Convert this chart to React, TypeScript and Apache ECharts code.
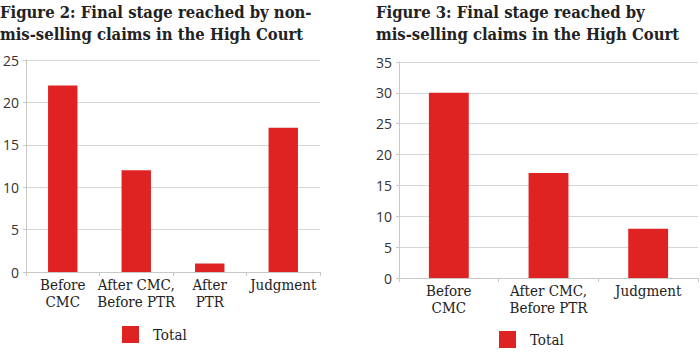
import React, { useEffect, useRef } from "react";
import * as echarts from "echarts";

const leftCategories = ["Before\nCMC", "After CMC,\nBefore PTR", "After\nPTR", "Judgment"];
const leftValues = [22, 12, 1, 17];
const rightCategories = ["Before\nCMC", "After CMC,\nBefore PTR", "Judgment"];
const rightValues = [30, 17, 8];
const leftTitle = "Figure 2: Final stage reached by non-\nmis-selling claims in the High Court";
const rightTitle = "Figure 3: Final stage reached by\nmis-selling claims in the High Court";
const seriesName = "Total";

const RED = "#df2322";
const SERIF = "'DejaVu Serif Condensed', 'Liberation Serif', serif";
const SANS = "'Open Sans', sans-serif";

export default function App() {
  const ref = useRef<HTMLDivElement>(null);
  useEffect(() => {
    document.body.style.margin = "0";
    const chart = echarts.init(ref.current!, null, { renderer: "svg" });
    const xAxisCommon = {
      type: "category" as const,
      axisLine: { lineStyle: { color: "#c8c8c8" } },
      axisTick: { show: true, length: 4, lineStyle: { color: "#c8c8c8" } },
      axisLabel: { interval: 0, fontFamily: SERIF, fontSize: 15, color: "#222", lineHeight: 17, margin: 4 },
    };
    const yAxisCommon = {
      type: "value" as const,
      min: 0,
      interval: 5,
      axisLine: { show: true, lineStyle: { color: "#c8c8c8" } },
      axisTick: { show: true, length: 3, lineStyle: { color: "#c8c8c8" } },
      splitLine: { lineStyle: { color: "#d6d6d6" } },
      axisLabel: { fontFamily: SANS, fontSize: 14, color: "#333", margin: 7 },
    };
    const titleStyle = { fontFamily: SERIF, fontWeight: "bold", fontSize: 16.5, lineHeight: 22, color: "#222" };
    chart.setOption({
      animation: false,
      title: [
        { text: leftTitle, left: 0, top: 1, textStyle: titleStyle, padding: 0 },
        { text: rightTitle, left: 376, top: 1, textStyle: titleStyle, padding: 0 },
      ],
      grid: [
        { left: 24, right: 380, top: 60, bottom: 92 },
        { left: 399, right: 2, top: 62, bottom: 86 },
      ],
      xAxis: [
        { ...xAxisCommon, gridIndex: 0, data: leftCategories },
        { ...xAxisCommon, gridIndex: 1, data: rightCategories },
      ],
      yAxis: [
        { ...yAxisCommon, gridIndex: 0, max: 25 },
        { ...yAxisCommon, gridIndex: 1, max: 35 },
      ],
      legend: [
        { data: [seriesName], left: 122, top: 326, itemWidth: 17, itemHeight: 17, icon: "rect", padding: 0,
          textStyle: { fontFamily: SERIF, fontSize: 15, color: "#222", padding: [0, 0, 0, 9] } },
        { data: [seriesName], left: 499, top: 331, itemWidth: 17, itemHeight: 17, icon: "rect", padding: 0,
          textStyle: { fontFamily: SERIF, fontSize: 15, color: "#222", padding: [0, 0, 0, 9] } },
      ],
      series: [
        { name: seriesName, type: "bar", xAxisIndex: 0, yAxisIndex: 0, data: leftValues, barWidth: "40%", itemStyle: { color: RED } },
        { name: seriesName, type: "bar", xAxisIndex: 1, yAxisIndex: 1, data: rightValues, barWidth: "40%", itemStyle: { color: RED } },
      ],
    });
    return () => chart.dispose();
  }, []);
  return <div ref={ref} style={{ position: "absolute", left: 0, top: 0, width: 700, height: 364 }} />;
}
